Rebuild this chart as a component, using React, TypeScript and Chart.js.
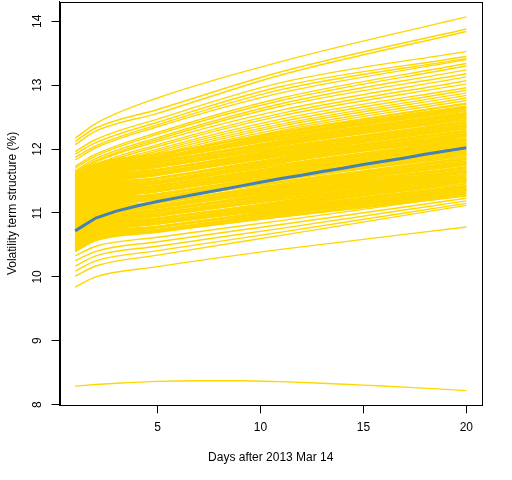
import { useEffect, useRef } from "react";
import { Chart, registerables } from "chart.js";

Chart.register(...registerables);

const DAYS = [1, 2, 5, 11, 20];

// Curves that end above the dense band
const UPPER_CURVES: number[][] = [
  [12.17, 12.4, 12.8, 13.37, 14.07],
  [12.12, 12.33, 12.62, 13.21, 13.88],
  [12.07, 12.28, 12.56, 13.16, 13.84],
  [11.96, 12.15, 12.47, 13.04, 13.53],
  [11.92, 12.1, 12.42, 12.98, 13.45],
  [11.87, 12.05, 12.38, 12.93, 13.42],
  [11.83, 12.02, 12.35, 12.88, 13.4],
  [11.73, 11.92, 12.26, 12.8, 13.34],
  [11.7, 11.89, 12.23, 12.76, 13.3],
  [11.66, 11.85, 12.18, 12.71, 13.24],
  [11.64, 11.82, 12.15, 12.67, 13.18],
  [11.62, 11.8, 12.12, 12.61, 13.13],
  [11.58, 11.76, 12.07, 12.56, 13.07],
  [11.55, 11.73, 12.04, 12.52, 13.02],
  [11.52, 11.7, 12.0, 12.47, 12.96],
  [11.5, 11.67, 11.97, 12.43, 12.92],
  [11.47, 11.64, 11.94, 12.39, 12.88],
  [11.45, 11.62, 11.91, 12.36, 12.84],
  [11.42, 11.59, 11.88, 12.32, 12.8],
  [11.4, 11.57, 11.85, 12.29, 12.76],
  [11.37, 11.54, 11.82, 12.25, 12.72],
];

// The dense band of curves
const CORE_CURVES: number[][] = [
  [11.6, 11.77, 11.92, 12.25, 12.67],
  [11.59, 11.76, 11.92, 12.27, 12.71],
  [11.58, 11.75, 11.88, 12.2, 12.6],
  [11.56, 11.73, 11.88, 12.22, 12.65],
  [11.55, 11.72, 11.85, 12.16, 12.55],
  [11.54, 11.71, 11.87, 12.2, 12.64],
  [11.53, 11.7, 11.84, 12.17, 12.57],
  [11.51, 11.68, 11.85, 12.2, 12.63],
  [11.5, 11.67, 11.81, 12.12, 12.53],
  [11.49, 11.66, 11.8, 12.1, 12.49],
  [11.48, 11.65, 11.79, 12.11, 12.53],
  [11.46, 11.63, 11.79, 12.13, 12.56],
  [11.45, 11.62, 11.76, 12.07, 12.46],
  [11.44, 11.61, 11.75, 12.08, 12.5],
  [11.43, 11.6, 11.72, 12.02, 12.41],
  [11.41, 11.58, 11.74, 12.07, 12.5],
  [11.4, 11.57, 11.72, 12.03, 12.43],
  [11.39, 11.56, 11.72, 12.06, 12.49],
  [11.38, 11.55, 11.68, 11.99, 12.38],
  [11.36, 11.53, 11.67, 11.96, 12.35],
  [11.35, 11.52, 11.67, 11.98, 12.38],
  [11.34, 11.51, 11.66, 12.0, 12.42],
  [11.33, 11.5, 11.63, 11.93, 12.32],
  [11.31, 11.48, 11.63, 11.95, 12.36],
  [11.3, 11.47, 11.6, 11.89, 12.27],
  [11.29, 11.46, 11.61, 11.93, 12.35],
  [11.28, 11.45, 11.59, 11.9, 12.29],
  [11.26, 11.43, 11.6, 11.92, 12.34],
  [11.25, 11.42, 11.55, 11.85, 12.24],
  [11.24, 11.41, 11.54, 11.83, 12.21],
  [11.23, 11.4, 11.54, 11.84, 12.24],
  [11.21, 11.38, 11.54, 11.86, 12.28],
  [11.2, 11.37, 11.5, 11.8, 12.17],
  [11.19, 11.36, 11.5, 11.81, 12.22],
  [11.18, 11.35, 11.47, 11.75, 12.12],
  [11.16, 11.33, 11.49, 11.8, 12.21],
  [11.15, 11.32, 11.46, 11.76, 12.15],
  [11.14, 11.31, 11.47, 11.79, 12.2],
  [11.13, 11.3, 11.43, 11.72, 12.1],
  [11.11, 11.28, 11.41, 11.69, 12.06],
  [11.1, 11.27, 11.41, 11.71, 12.1],
  [11.09, 11.26, 11.41, 11.72, 12.14],
  [11.08, 11.25, 11.38, 11.66, 12.03],
  [11.06, 11.23, 11.37, 11.68, 12.08],
  [11.05, 11.22, 11.34, 11.61, 11.98],
  [11.04, 11.21, 11.36, 11.66, 12.07],
  [11.03, 11.2, 11.34, 11.63, 12.0],
  [11.01, 11.18, 11.34, 11.65, 12.06],
  [11.0, 11.17, 11.3, 11.58, 11.96],
  [10.99, 11.16, 11.29, 11.56, 11.92],
  [10.98, 11.15, 11.29, 11.57, 11.96],
  [10.96, 11.13, 11.28, 11.59, 11.99],
  [10.95, 11.12, 11.25, 11.53, 11.89],
  [10.94, 11.11, 11.25, 11.54, 11.93],
  [10.93, 11.1, 11.21, 11.48, 11.84],
  [10.91, 11.08, 11.23, 11.53, 11.93],
  [10.9, 11.07, 11.21, 11.49, 11.86],
  [10.89, 11.06, 11.22, 11.52, 11.92],
  [10.88, 11.05, 11.17, 11.44, 11.81],
  [10.86, 11.03, 11.16, 11.42, 11.78],
  [10.85, 11.02, 11.16, 11.44, 11.81],
  [10.84, 11.01, 11.16, 11.45, 11.85],
  [10.83, 11.0, 11.12, 11.39, 11.75],
  [10.81, 10.98, 11.12, 11.41, 11.79],
  [10.8, 10.97, 11.09, 11.34, 11.7],
  [10.79, 10.96, 11.1, 11.39, 11.78],
  [10.78, 10.95, 11.08, 11.36, 11.72],
  [10.76, 10.93, 11.09, 11.38, 11.77],
  [10.75, 10.92, 11.05, 11.31, 11.67],
  [10.74, 10.91, 11.03, 11.29, 11.64],
  [10.73, 10.9, 11.03, 11.3, 11.67],
  [10.71, 10.88, 11.03, 11.32, 11.71],
  [10.7, 10.87, 11.0, 11.25, 11.6],
  [10.69, 10.86, 10.99, 11.27, 11.65],
  [10.68, 10.85, 10.96, 11.21, 11.55],
  [10.66, 10.83, 10.98, 11.25, 11.64],
  [10.65, 10.82, 10.95, 11.22, 11.58],
  [10.64, 10.81, 10.96, 11.25, 11.63],
  [10.63, 10.8, 10.92, 11.17, 11.53],
  [10.61, 10.78, 10.91, 11.15, 11.49],
  [10.6, 10.77, 10.9, 11.17, 11.53],
  [10.59, 10.76, 10.9, 11.18, 11.56],
  [10.58, 10.75, 10.87, 11.12, 11.46],
  [10.56, 10.73, 10.87, 11.14, 11.51],
  [10.55, 10.72, 10.83, 11.07, 11.41],
  [10.54, 10.71, 10.85, 11.12, 11.5],
  [10.53, 10.7, 10.83, 11.09, 11.43],
  [10.51, 10.68, 10.84, 11.11, 11.49],
  [10.5, 10.67, 10.79, 11.04, 11.38],
  [10.49, 10.66, 10.78, 11.02, 11.35],
  [10.48, 10.65, 10.78, 11.03, 11.39],
  [10.46, 10.63, 10.77, 11.05, 11.42],
  [10.45, 10.62, 10.74, 10.98, 11.32],
  [10.44, 10.61, 10.74, 11.0, 11.36],
  [10.43, 10.6, 10.71, 10.94, 11.27],
  [10.41, 10.58, 10.72, 10.98, 11.35],
  [10.4, 10.57, 10.7, 10.95, 11.3],
];

// Curves below the dense band
const LOWER_CURVES: number[][] = [
  [10.33, 10.48, 10.62, 10.88, 11.28],
  [10.25, 10.4, 10.55, 10.82, 11.23],
  [10.17, 10.33, 10.48, 10.76, 11.19],
  [10.09, 10.25, 10.41, 10.7, 11.15],
  [10.01, 10.17, 10.34, 10.65, 11.12],
  [9.84, 10.0, 10.16, 10.43, 10.78],
];

// The humped curve near the bottom
const OUTLIER_DAYS = [1, 2, 3, 5, 7, 9, 11, 13, 15, 17, 20];
const OUTLIER_VALUES = [8.29, 8.315, 8.335, 8.365, 8.375, 8.375, 8.36, 8.335, 8.305, 8.275, 8.22];

// The highlighted (blue) curve
const MEAN_DAYS = [1, 2, 3, 4, 5, 6, 7, 8, 9, 10, 11, 12, 13, 14, 15, 16, 17, 18, 19, 20];
const MEAN_VALUES = [
  10.72, 10.92, 11.03, 11.11, 11.18, 11.24, 11.3, 11.36, 11.42, 11.48,
  11.54, 11.59, 11.65, 11.7, 11.76, 11.81, 11.86, 11.92, 11.97, 12.02,
];

const X_TICKS = [5, 10, 15, 20];
const Y_TICKS = [8, 9, 10, 11, 12, 13, 14];
const X_TITLE = "Days after 2013 Mar 14";
const Y_TITLE = "Volatility term structure (%)";

const FONT = '"Liberation Sans", Arial, sans-serif';
const GOLD = "#FFD700";
const STEEL = "#4682B4";

export default function App() {
  const ref = useRef<HTMLCanvasElement>(null);

  useEffect(() => {
    const canvas = ref.current;
    if (!canvas) return;

    const yellowStyle = {
      borderColor: GOLD,
      borderWidth: 1.4,
      pointRadius: 0,
      cubicInterpolationMode: "monotone",
      order: 1,
    };
    const toSet = (vals: number[], width: number) => ({
      data: DAYS.map((d, k) => ({ x: d, y: vals[k] })),
      ...yellowStyle,
      borderWidth: width,
    });
    const yellowSets: any[] = [
      ...UPPER_CURVES.map((v) => toSet(v, 1.4)),
      ...CORE_CURVES.map((v) => toSet(v, 1.9)),
      ...LOWER_CURVES.map((v) => toSet(v, 1.4)),
    ];
    yellowSets.push({
      data: OUTLIER_DAYS.map((d, k) => ({ x: d, y: OUTLIER_VALUES[k] })),
      ...yellowStyle,
    });
    const meanSet = {
      data: MEAN_DAYS.map((d, k) => ({ x: d, y: MEAN_VALUES[k] })),
      borderColor: STEEL,
      borderWidth: 3,
      pointRadius: 0,
      tension: 0,
      order: 0,
    };

    const frame = {
      id: "frame",
      afterDraw(chart: any) {
        const { ctx, chartArea: a, scales } = chart;
        ctx.save();
        ctx.strokeStyle = "#000";
        ctx.lineWidth = 1;
        const l = Math.round(a.left) + 0.5;
        const t = Math.round(a.top) + 0.5;
        const r = Math.round(a.right) + 0.5;
        const b = Math.round(a.bottom) + 0.5;
        ctx.strokeRect(l, t, r - l, b - t);

        ctx.fillStyle = "#000";
        ctx.font = `12px ${FONT}`;
        ctx.textAlign = "center";
        ctx.textBaseline = "middle";
        for (const v of Y_TICKS) {
          const py = scales.y.getPixelForValue(v);
          ctx.save();
          ctx.translate(a.left - 21.5, py);
          ctx.rotate(-Math.PI / 2);
          ctx.fillText(String(v), 0, 0);
          ctx.restore();
        }
        ctx.save();
        ctx.translate(a.left - 47, (a.top + a.bottom) / 2);
        ctx.rotate(-Math.PI / 2);
        ctx.fillText(Y_TITLE, 0, 0);
        ctx.restore();
        ctx.fillText(X_TITLE, (a.left + a.right) / 2, a.bottom + 52.5);
        ctx.restore();
      },
    };

    const chart = new Chart(canvas, {
      type: "line",
      data: { datasets: [meanSet, ...yellowSets] },
      options: {
        responsive: false,
        animation: false,
        events: [],
        normalized: true,
        layout: { padding: { left: 0, top: 1.5, right: 30, bottom: 0 } },
        plugins: { legend: { display: false }, tooltip: { enabled: false } },
        scales: {
          x: {
            type: "linear",
            min: 0.24,
            max: 20.76,
            afterBuildTicks: (s: any) => {
              s.ticks = X_TICKS.map((v) => ({ value: v }));
            },
            afterFit: (s: any) => {
              s.height = 74.7;
              s.paddingLeft = 0;
              s.paddingRight = 0;
            },
            grid: { display: true, drawOnChartArea: false, drawTicks: true, tickLength: 8, color: "#000", lineWidth: 1 },
            border: { display: true, color: "#000", width: 1 },
            ticks: { color: "#000", font: { family: FONT, size: 12 }, padding: 7, maxRotation: 0, autoSkip: false },
          },
          y: {
            type: "linear",
            min: 7.99,
            max: 14.31,
            afterBuildTicks: (s: any) => {
              s.ticks = Y_TICKS.map((v) => ({ value: v }));
            },
            afterFit: (s: any) => {
              s.width = 59.5;
              s.paddingTop = 0;
              s.paddingBottom = 0;
            },
            grid: { display: true, drawOnChartArea: false, drawTicks: true, tickLength: 8, color: "#000", lineWidth: 1 },
            border: { display: true, color: "#000", width: 1 },
            ticks: { display: false },
          },
        },
      } as any,
      plugins: [frame],
    });

    return () => chart.destroy();
  }, []);

  return (
    <div style={{ position: "absolute", left: 0, top: 0, width: 512, height: 480, background: "#fff" }}>
      <canvas ref={ref} width={512} height={480} style={{ width: 512, height: 480, display: "block" }} />
    </div>
  );
}
